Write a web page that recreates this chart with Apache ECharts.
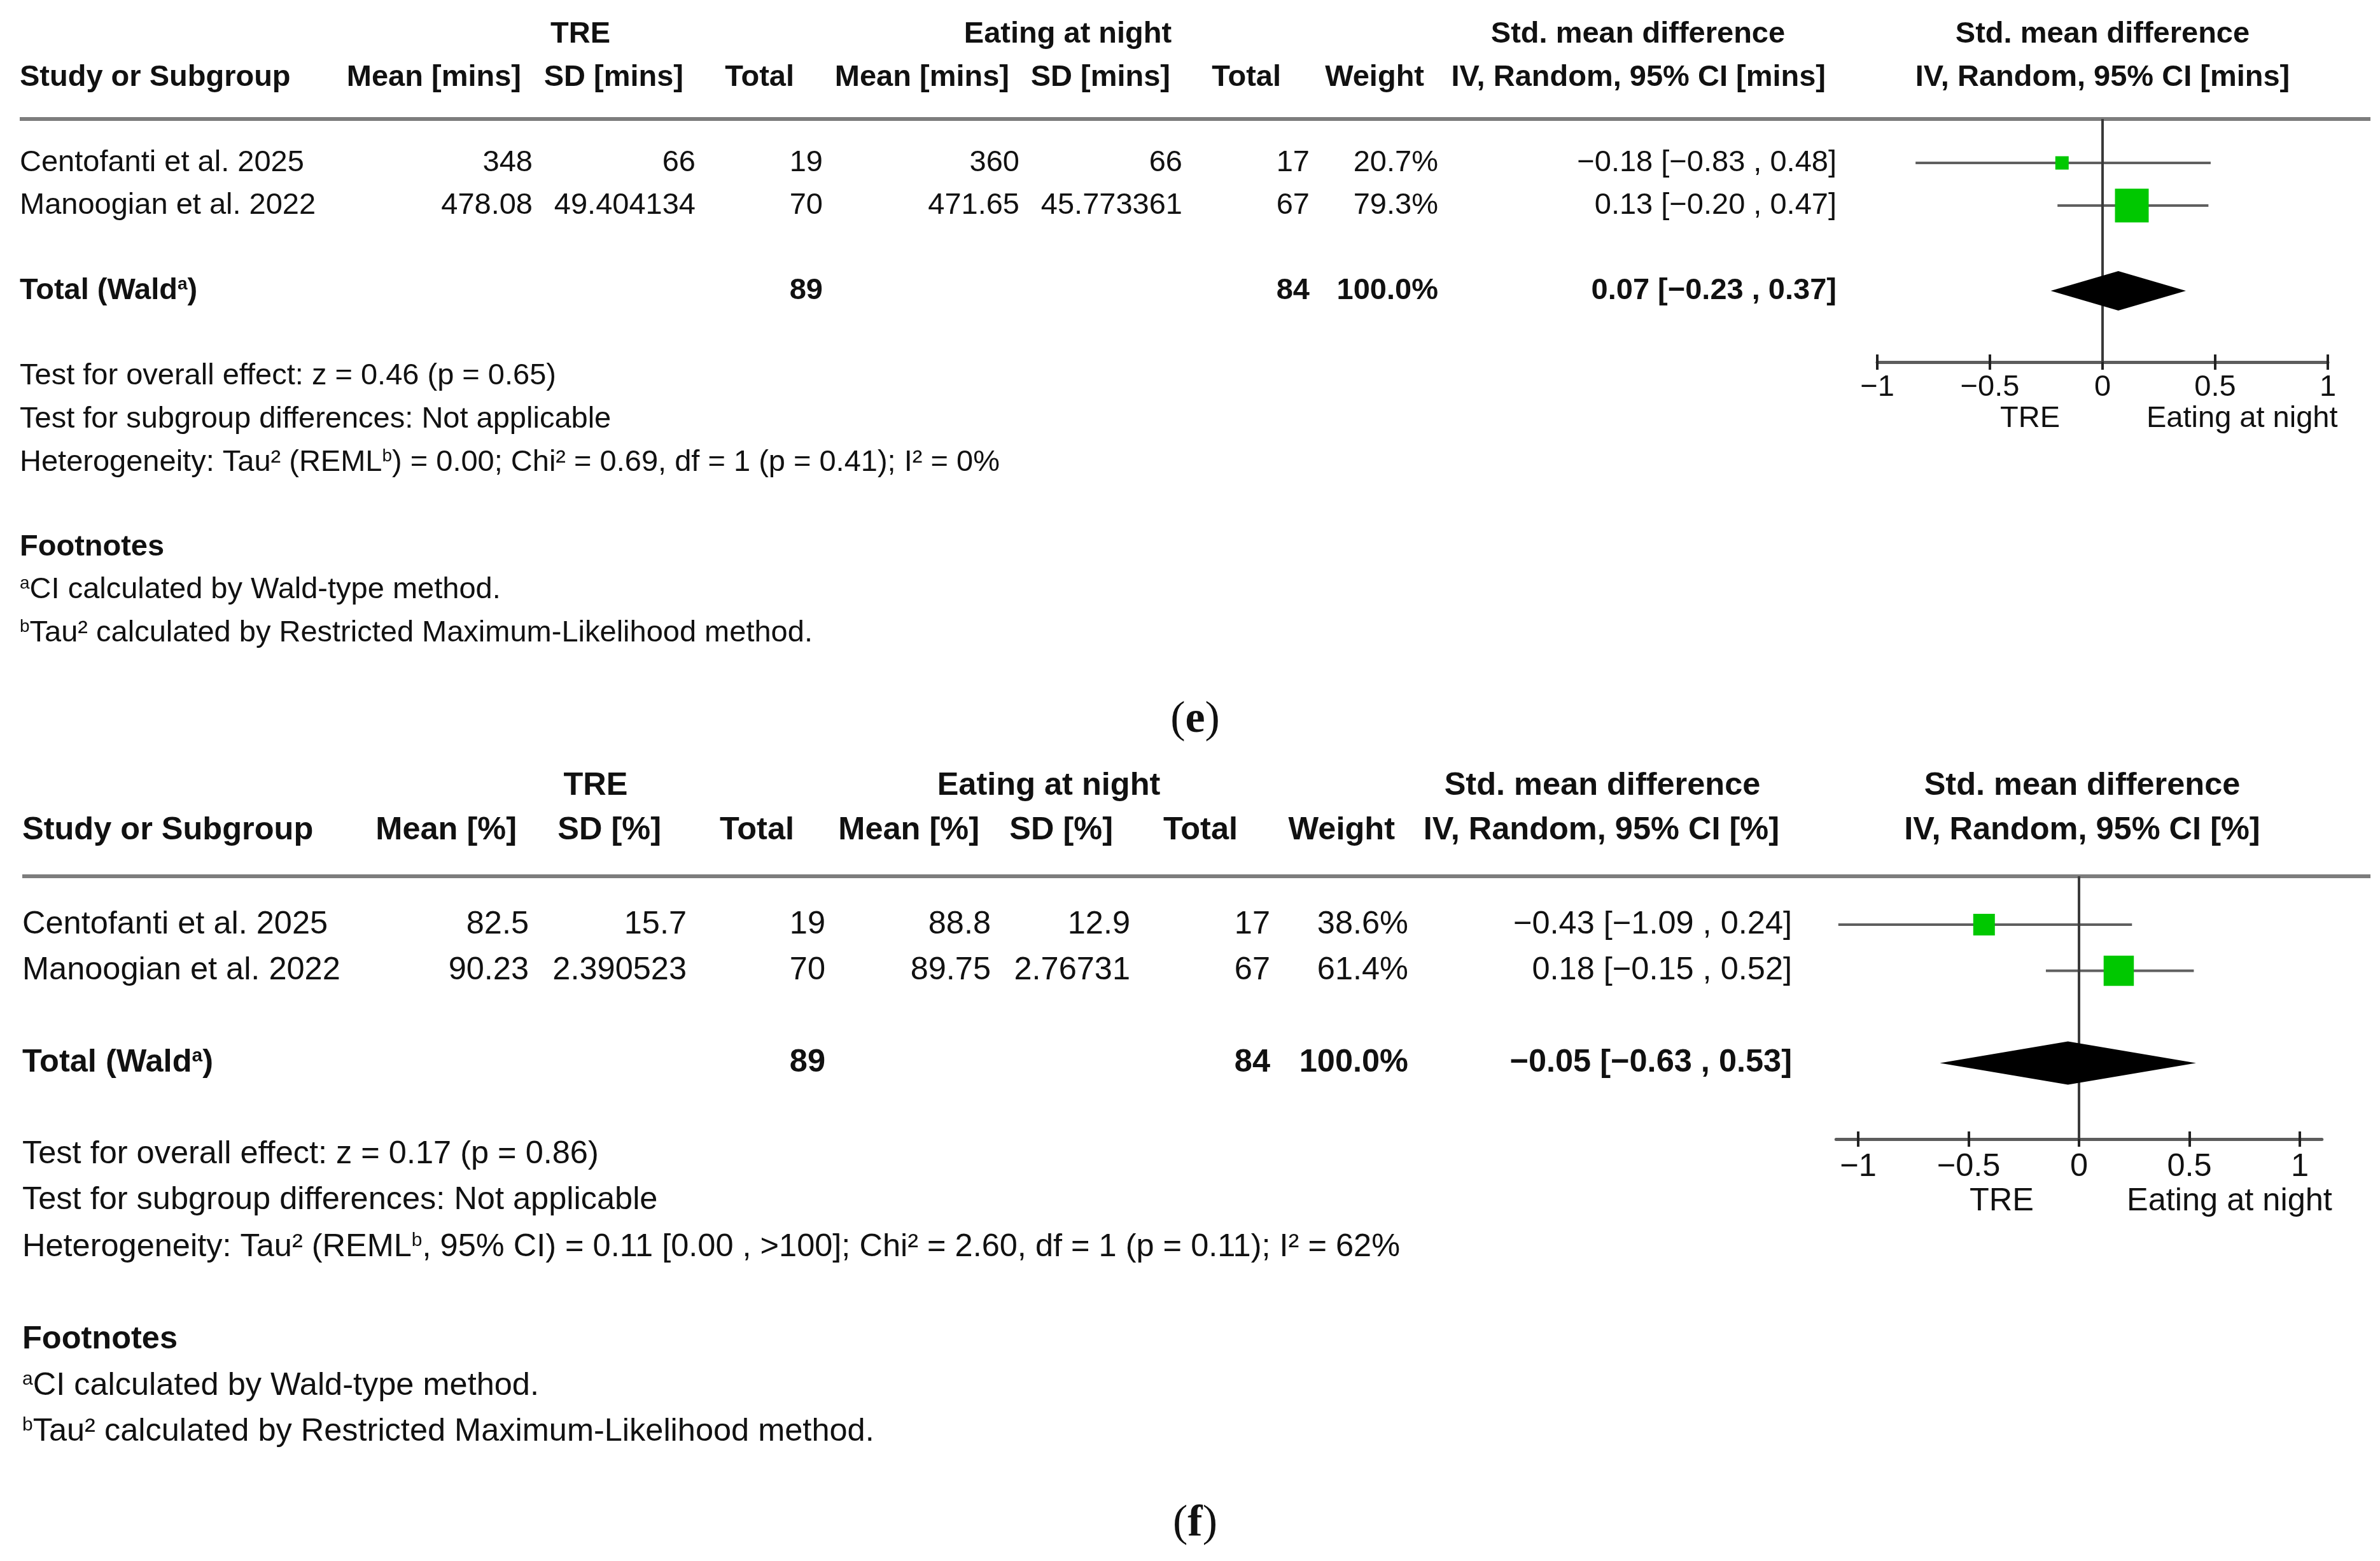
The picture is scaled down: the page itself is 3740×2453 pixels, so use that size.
<!DOCTYPE html>
<html>
<head>
<meta charset="utf-8">
<script src="https://cdn.jsdelivr.net/npm/echarts@6/dist/echarts.min.js"></script>
<style>
html,body{margin:0;padding:0;background:#ffffff;}
#c{width:3740px;height:2453px;}
</style>
</head>
<body>
<div id="c"></div>
<script>
// ================= DATA =================
const studies = ['Centofanti et al. 2025', 'Manoogian et al. 2022'];
const axisTicks = [-1, -0.5, 0, 0.5, 1];
const groupHeads = ['TRE', 'Eating at night', 'Std. mean difference', 'Std. mean difference'];
const sideLabels = ['TRE', 'Eating at night'];

// (e) minutes
const eTreMean = [348, 478.08];
const eTreSD = [66, 49.404134];
const eTreN = [19, 70];
const eNightMean = [360, 471.65];
const eNightSD = [66, 45.773361];
const eNightN = [17, 67];
const eWeight = [20.7, 79.3];
const eSmd = [-0.18, 0.13];
const eLo = [-0.83, -0.20];
const eHi = [0.48, 0.47];
const eTotalN = [89, 84];
const eTotalWeight = 100.0;
const eTotalCI = [-0.23, 0.07, 0.37]; // lo, est, hi
const eColHeads = ['Mean [mins]', 'SD [mins]', 'Total', 'Mean [mins]', 'SD [mins]', 'Total', 'Weight', 'IV, Random, 95% CI [mins]'];
const eStats = [
  'Test for overall effect: z = 0.46 (p = 0.65)',
  'Test for subgroup differences: Not applicable',
  'Heterogeneity: Tau² (REML{sup|b}) = 0.00; Chi² = 0.69, df = 1 (p = 0.41); I² = 0%'
];

// (f) percent
const fTreMean = [82.5, 90.23];
const fTreSD = [15.7, 2.390523];
const fTreN = [19, 70];
const fNightMean = [88.8, 89.75];
const fNightSD = [12.9, 2.76731];
const fNightN = [17, 67];
const fWeight = [38.6, 61.4];
const fSmd = [-0.43, 0.18];
const fLo = [-1.09, -0.15];
const fHi = [0.24, 0.52];
const fTotalN = [89, 84];
const fTotalWeight = 100.0;
const fTotalCI = [-0.63, -0.05, 0.53];
const fColHeads = ['Mean [%]', 'SD [%]', 'Total', 'Mean [%]', 'SD [%]', 'Total', 'Weight', 'IV, Random, 95% CI [%]'];
const fStats = [
  'Test for overall effect: z = 0.17 (p = 0.86)',
  'Test for subgroup differences: Not applicable',
  'Heterogeneity: Tau² (REML{sup|b}, 95% CI) = 0.11 [0.00 , >100]; Chi² = 2.60, df = 1 (p = 0.11); I² = 62%'
];

const footnotes = [
  '{sup|a}CI calculated by Wald-type method.',
  '{sup|b}Tau² calculated by Restricted Maximum-Likelihood method.'
];
const rowIndex = [0, 1];
const totalRowIndex = 3;

// ================= LAYOUT / STYLE =================
const FF = '"Liberation Sans", Arial, Helvetica, sans-serif';
const SERIF = '"Liberation Serif", "Times New Roman", serif';
const INK = '#111111';

const panels = [
  {
    tag: 'e', font: 47, left: 31, sepRight: 3725,
    y: { h1: 54, h2: 122, sep: 187, rows: [256, 323], total: 457, stats: [591, 659, 727], foot: [860, 927, 995], tag: 1132, side: 658 },
    groupX: [912, 1678, 2574, 3304],
    headRight: [819, 1074, 1248, 1586, 1839, 2013, 2238, 2869],
    valRight: [837, 1093, 1293, 1602, 1858, 2058, 2260, 2886],
    plotHeadX: 3304,
    grid: { left: 2950, width: 708, top: 187, height: 382 },
    yRange: [-1.03, 4.672], xRange: [-1, 1],
    squares: [21, 53], diamondHalf: 31, sideGap: [67, 69], labelMargin: 17,
    data: { treMean: eTreMean, treSD: eTreSD, treN: eTreN, nMean: eNightMean, nSD: eNightSD, nN: eNightN, w: eWeight, smd: eSmd, lo: eLo, hi: eHi, totN: eTotalN, totW: eTotalWeight, totCI: eTotalCI, heads: eColHeads, stats: eStats }
  },
  {
    tag: 'f', font: 50.5, left: 35, sepRight: 3725,
    y: { h1: 1235, h2: 1305, sep: 1377, rows: [1453, 1525.5], total: 1670.5, stats: [1814, 1886, 1960], foot: [2105, 2178, 2250], tag: 2395, side: 1888 },
    groupX: [936, 1648, 2518, 3272],
    headRight: [812, 1039, 1248, 1539, 1749, 1945, 2192, 2796],
    valRight: [831, 1079, 1297, 1557, 1776, 1996, 2213, 2816],
    plotHeadX: 3272,
    grid: { left: 2885.3, width: 763.4, top: 1377, height: 413 },
    yRange: [-1.048, 4.648], xRange: [-1.1, 1.1],
    squares: [34, 47.5], diamondHalf: 34, sideGap: [71, 75], labelMargin: 19,
    data: { treMean: fTreMean, treSD: fTreSD, treN: fTreN, nMean: fNightMean, nSD: fNightSD, nN: fNightN, w: fWeight, smd: fSmd, lo: fLo, hi: fHi, totN: fTotalN, totW: fTotalWeight, totCI: fTotalCI, heads: fColHeads, stats: fStats }
  }
];

// ================= HELPERS =================
const sgn = v => (v < 0 ? '\u2212' : '') + Math.abs(v).toFixed(2);
const ciText = (s, lo, hi) => sgn(s) + ' [' + sgn(lo) + ' , ' + sgn(hi) + ']';
const tickFmt = v => (v < 0 ? '\u2212' + Math.abs(v) : String(v));

function supRich(size, bold) {
  return { sup: { fontSize: Math.round(size * 0.6), fontFamily: FF, fontWeight: bold ? 'bold' : 'normal', fill: INK, verticalAlign: 'top', lineHeight: Math.round(size * 0.62) } };
}
function txt(x, y, text, size, opts) {
  opts = opts || {};
  return {
    type: 'text', silent: true, z: 10,
    style: {
      x: x, y: y, text: text,
      fill: INK, fontFamily: opts.family || FF, fontSize: size,
      fontWeight: opts.bold ? 'bold' : 'normal',
      align: opts.align || 'left', verticalAlign: 'middle',
      rich: opts.rich || supRich(size, opts.bold)
    }
  };
}

// ================= CHART =================
const chart = echarts.init(document.getElementById('c'), null, { renderer: 'canvas', width: 3740, height: 2453 });

const grids = [], xAxes = [], yAxes = [], series = [];
panels.forEach((p, gi) => {
  grids.push(Object.assign({ containLabel: false }, p.grid));
  xAxes.push({
    gridIndex: gi, type: 'value', min: p.xRange[0], max: p.xRange[1], position: 'bottom', offset: 0,
    axisLine: { show: true, onZero: false, lineStyle: { color: '#5c5c5c', width: 5 } },
    axisTick: { show: true, inside: false, length: 12, customValues: axisTicks, lineStyle: { color: '#222', width: 4 } },
    axisLabel: { show: true, customValues: axisTicks, formatter: tickFmt, margin: p.labelMargin, fontSize: p.font, fontFamily: FF, color: INK, showMinLabel: true, showMaxLabel: true },
    splitLine: { show: false }
  });
  xAxes.push({
    gridIndex: gi, type: 'value', min: p.xRange[0], max: p.xRange[1], position: 'bottom', offset: 0,
    axisLine: { show: false, onZero: false },
    axisTick: { show: true, inside: true, length: 12, customValues: axisTicks, lineStyle: { color: '#222', width: 4 } },
    axisLabel: { show: false },
    splitLine: { show: false }
  });
  yAxes.push({
    gridIndex: gi, type: 'value', inverse: true, min: p.yRange[0], max: p.yRange[1], show: false,
    axisLine: { onZero: false },
    splitLine: { show: false }
  });
  const xi = gi * 2;
  const d = p.data;
  // CI whiskers + zero line
  series.push({
    type: 'custom', xAxisIndex: xi, yAxisIndex: gi, silent: true, z: 2,
    data: studies.map((s, i) => [d.lo[i], d.hi[i], rowIndex[i]]),
    encode: { x: [0, 1], y: 2 },
    renderItem: function (params, api) {
      const a = api.coord([api.value(0), api.value(2)]);
      const b = api.coord([api.value(1), api.value(2)]);
      return { type: 'line', shape: { x1: a[0], y1: a[1], x2: b[0], y2: b[1] }, style: { stroke: '#5f5f5f', lineWidth: 4 } };
    },
    markLine: {
      silent: true, symbol: 'none', z: 3, animation: false,
      label: { show: false },
      lineStyle: { color: '#3a3a3a', width: 4, type: 'solid' },
      data: [{ xAxis: 0 }]
    }
  });
  // study squares
  series.push({
    type: 'scatter', xAxisIndex: xi, yAxisIndex: gi, silent: true, z: 4, symbol: 'rect',
    data: studies.map((s, i) => ({ value: [d.smd[i], rowIndex[i]], symbolSize: p.squares[i] })),
    itemStyle: { color: '#00c800', opacity: 1 }
  });
  // pooled diamond
  const half = p.diamondHalf;
  series.push({
    type: 'custom', xAxisIndex: xi, yAxisIndex: gi, silent: true, z: 5,
    data: [[d.totCI[0], d.totCI[1], d.totCI[2], totalRowIndex]],
    encode: { x: [0, 1, 2], y: 3 },
    renderItem: function (params, api) {
      const yv = api.value(3);
      const L = api.coord([api.value(0), yv]);
      const C = api.coord([api.value(1), yv]);
      const R = api.coord([api.value(2), yv]);
      return { type: 'polygon', shape: { points: [L, [C[0], C[1] - half], R, [C[0], C[1] + half]] }, style: { fill: '#000000' } };
    }
  });
});

chart.setOption({
  backgroundColor: '#ffffff',
  animation: false,
  grid: grids, xAxis: xAxes, yAxis: yAxes, series: series
});

// ================= TABLE TEXT =================
const graphics = [];
panels.forEach((p, gi) => {
  const F = p.font, d = p.data, y = p.y;
  // group headers
  groupHeads.forEach((g, k) => graphics.push(txt(p.groupX[k], y.h1, g, F, { bold: true, align: 'center' })));
  // column headers
  graphics.push(txt(p.left, y.h2, 'Study or Subgroup', F, { bold: true }));
  d.heads.forEach((h, k) => graphics.push(txt(p.headRight[k], y.h2, h, F, { bold: true, align: 'right' })));
  graphics.push(txt(p.plotHeadX, y.h2, d.heads[7], F, { bold: true, align: 'center' }));
  // separator
  graphics.push({ type: 'line', silent: true, z: 1, shape: { x1: p.left, y1: y.sep, x2: p.sepRight, y2: y.sep }, style: { stroke: '#7d7d7d', lineWidth: 6 } });
  // study rows
  studies.forEach((s, i) => {
    const vals = [String(d.treMean[i]), String(d.treSD[i]), String(d.treN[i]), String(d.nMean[i]), String(d.nSD[i]), String(d.nN[i]), d.w[i].toFixed(1) + '%', ciText(d.smd[i], d.lo[i], d.hi[i])];
    graphics.push(txt(p.left, y.rows[i], s, F));
    vals.forEach((v, k) => graphics.push(txt(p.valRight[k], y.rows[i], v, F, { align: 'right' })));
  });
  // total row
  graphics.push(txt(p.left, y.total, 'Total (Wald{sup|a})', F, { bold: true }));
  graphics.push(txt(p.valRight[2], y.total, String(d.totN[0]), F, { bold: true, align: 'right' }));
  graphics.push(txt(p.valRight[5], y.total, String(d.totN[1]), F, { bold: true, align: 'right' }));
  graphics.push(txt(p.valRight[6], y.total, d.totW.toFixed(1) + '%', F, { bold: true, align: 'right' }));
  graphics.push(txt(p.valRight[7], y.total, ciText(d.totCI[1], d.totCI[0], d.totCI[2]), F, { bold: true, align: 'right' }));
  // statistics
  d.stats.forEach((s, k) => graphics.push(txt(p.left, y.stats[k], s, F)));
  // footnotes
  graphics.push(txt(p.left, y.foot[0], 'Footnotes', F, { bold: true }));
  footnotes.forEach((s, k) => graphics.push(txt(p.left, y.foot[k + 1], s, F)));
  // side labels below the axis
  const x0 = chart.convertToPixel({ xAxisIndex: gi * 2 }, 0);
  graphics.push(txt(x0 - p.sideGap[0], y.side, sideLabels[0], F, { align: 'right' }));
  graphics.push(txt(x0 + p.sideGap[1], y.side, sideLabels[1], F, { align: 'left' }));
  // panel tag
  graphics.push(txt(1878, y.tag, '{p|(}{b|' + p.tag + '}{p|)}', 70, {
    family: SERIF, align: 'center',
    rich: { p: { fontFamily: SERIF, fontSize: 70, fill: INK }, b: { fontFamily: SERIF, fontSize: 70, fontWeight: 'bold', fill: INK } }
  }));
});

chart.setOption({ graphic: { elements: graphics } });
</script>
</body>
</html>
